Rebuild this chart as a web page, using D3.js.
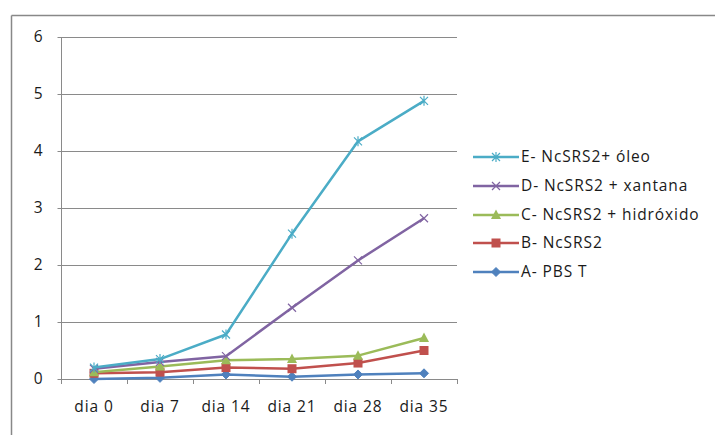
<!DOCTYPE html>
<html><head><meta charset="utf-8">
<script src="https://cdn.jsdelivr.net/npm/d3@7"></script>
<style>body{margin:0;background:#fff}svg{display:block}text{font-family:"Open Sans",Lato,sans-serif;}</style>
</head><body><svg id="c" width="715" height="435"></svg>
<script>
const categories = ["dia 0","dia 7","dia 14","dia 21","dia 28","dia 35"];
const yTicks = [0,1,2,3,4,5,6];
const seriesNames = ["E- NcSRS2+ óleo","D- NcSRS2 + xantana","C- NcSRS2 + hidróxido","B- NcSRS2","A- PBS T"];
const valuesE = [0.20,0.35,0.78,2.55,4.17,4.88];
const valuesD = [0.18,0.30,0.40,1.25,2.08,2.82];
const valuesC = [0.12,0.22,0.33,0.35,0.41,0.72];
const valuesB = [0.10,0.12,0.20,0.18,0.28,0.50];
const valuesA = [0.00,0.02,0.08,0.04,0.08,0.10];
const colors = ["#4BACC6","#8064A2","#9BBB59","#C0504D","#4F81BD"];
const markers = ["star","x","triangle","square","diamond"];

const series = [valuesE,valuesD,valuesC,valuesB,valuesA].map((v,i)=>({name:seriesNames[i],values:v,color:colors[i],marker:markers[i]}));

const FS = 15.5;
const LS = "0.9px";
const TXT = "#1a1a1a";
const svg = d3.select("#c");
// outer frame
svg.append("line").attr("x1",11.5).attr("x2",715).attr("y1",15.5).attr("y2",15.5).attr("stroke","#888").attr("stroke-width",1.5);
svg.append("line").attr("x1",11.5).attr("x2",11.5).attr("y1",15.5).attr("y2",435).attr("stroke","#888").attr("stroke-width",1.5);

const x = d3.scaleBand().domain(categories).range([61,457]);
const y = d3.scaleLinear().domain([0,6]).range([379,37]);

const g = svg.append("g");
// gridlines
g.selectAll(".grid").data(yTicks.filter(d=>d>0)).join("line")
 .attr("x1",61).attr("x2",457).attr("y1",d=>Math.round(y(d))+0.5).attr("y2",d=>Math.round(y(d))+0.5)
 .attr("stroke","#8a8a8a").attr("stroke-width",1);

// y axis
const ya = g.append("g").attr("transform","translate(61.5,0)").call(d3.axisLeft(y).tickValues(yTicks).tickSize(4).tickPadding(15).tickFormat(d3.format("d")));
ya.select(".domain").attr("stroke","#8a8a8a").attr("d","M0,"+y(6)+"V"+(y(0)+0.5));
ya.selectAll(".tick line").attr("stroke","#8a8a8a");
ya.selectAll(".tick text").attr("font-size",FS).attr("fill",TXT);
ya.selectAll(".tick").attr("transform",d=>"translate(0,"+(Math.round(y(d))+0.5)+")");

// x axis
const xa = g.append("g").attr("transform","translate(0,379.5)").call(d3.axisBottom(x).tickSize(0).tickPadding(21));
xa.select(".domain").attr("stroke","#8a8a8a").attr("d","M61,0H457");
xa.selectAll(".tick text").attr("font-size",FS).attr("fill",TXT).attr("letter-spacing",LS);
// boundary ticks
const bounds = categories.map((c,i)=>x(c)).concat([457]);
g.selectAll(".bt").data(bounds).join("line").attr("x1",d=>Math.round(d)+0.5).attr("x2",d=>Math.round(d)+0.5)
 .attr("y1",379).attr("y2",384).attr("stroke","#8a8a8a");

const cx = c=>x(c)+x.bandwidth()/2;
const line = d3.line().x((d,i)=>cx(categories[i])).y(d=>y(d));

function drawMarker(sel, type, color){
  if(type==="diamond") sel.append("path").attr("d","M0,-4.5L4.5,0L0,4.5L-4.5,0Z").attr("fill",color).attr("stroke",color);
  else if(type==="square") sel.append("rect").attr("x",-4.5).attr("y",-4.5).attr("width",9).attr("height",9).attr("fill",color);
  else if(type==="triangle") sel.append("path").attr("d","M0,-5.5L5,4L-5,4Z").attr("fill",color);
  else if(type==="x") sel.append("path").attr("d","M-4,-4L4,4M-4,4L4,-4").attr("stroke",color).attr("stroke-width",1.2).attr("fill","none");
  else if(type==="star") sel.append("path").attr("d","M-4,-4L4,4M-4,4L4,-4M0,-5V5").attr("stroke",color).attr("stroke-width",1.2).attr("fill","none");
}

// draw in reverse order so E on top
series.slice().reverse().forEach(s=>{
  g.append("path").datum(s.values).attr("d",line).attr("fill","none").attr("stroke",s.color).attr("stroke-width",2.5).attr("stroke-linejoin","round");
  s.values.forEach((v,i)=>{
    const m = g.append("g").attr("transform","translate("+cx(categories[i])+","+y(v)+")");
    drawMarker(m,s.marker,s.color);
  });
});

// legend
const legY = [157,186,215,243,272];
series.forEach((s,i)=>{
  const lg = svg.append("g").attr("transform","translate(0,"+legY[i]+")");
  lg.append("line").attr("x1",473).attr("x2",519).attr("y1",0).attr("y2",0).attr("stroke",s.color).attr("stroke-width",2.5);
  const m = lg.append("g").attr("transform","translate(496,0)");
  drawMarker(m,s.marker,s.color);
  lg.append("text").attr("x",521).attr("y",0).attr("dy","0.35em").attr("font-size",FS).attr("fill",TXT).attr("letter-spacing",LS).text(s.name);
});
</script></body></html>
